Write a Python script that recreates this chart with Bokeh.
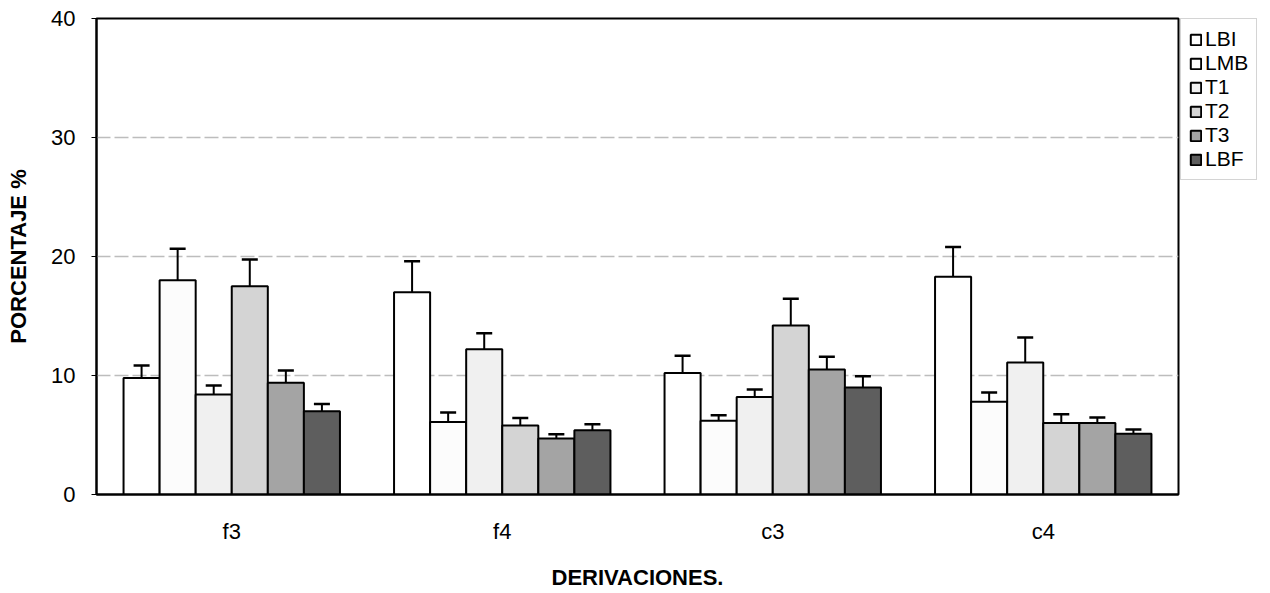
from bokeh.plotting import figure
from bokeh.layouts import row
from bokeh.models import (ColumnDataSource, FactorRange, Range1d, Whisker, TeeHead,
                          Legend, LegendItem, FixedTicker)
from bokeh.transform import dodge
from bokeh.embed import file_html
from bokeh.resources import INLINE

categories = ["f3", "f4", "c3", "c4"]
series = ["LBI", "LMB", "T1", "T2", "T3", "LBF"]

LBI = [9.8, 17.0, 10.2, 18.3]
LMB = [18.0, 6.1, 6.2, 7.8]
T1 = [8.4, 12.2, 8.2, 11.1]
T2 = [17.5, 5.8, 14.2, 6.0]
T3 = [9.4, 4.7, 10.5, 6.0]
LBF = [7.0, 5.4, 9.0, 5.1]

LBI_err = [1.05, 2.6, 1.45, 2.5]
LMB_err = [2.65, 0.8, 0.45, 0.77]
T1_err = [0.75, 1.35, 0.63, 2.1]
T2_err = [2.25, 0.62, 2.25, 0.75]
T3_err = [1.03, 0.37, 1.08, 0.47]
LBF_err = [0.6, 0.5, 0.94, 0.37]

values = [LBI, LMB, T1, T2, T3, LBF]
errors = [LBI_err, LMB_err, T1_err, T2_err, T3_err, LBF_err]
colors = ["#ffffff", "#fcfcfc", "#f0f0f0", "#d4d4d4", "#a4a4a4", "#5e5e5e"]

FONT = "Liberation Sans"

p = figure(x_range=FactorRange(*categories), y_range=Range1d(0, 40),
           width=1180, height=593, output_backend="svg", toolbar_location=None,
           min_border_left=96, min_border_right=2, min_border_top=18, min_border_bottom=99)

# legend-only panel: its bar renderers are hidden, only the legend shows
lp = figure(width=90, height=593, output_backend="svg", toolbar_location=None,
            x_axis_location=None, y_axis_location=None,
            min_border_left=0, min_border_right=0, min_border_top=15, min_border_bottom=0,
            x_range=FactorRange(*categories), y_range=Range1d(0, 40))
lp.outline_line_color = None
lp.xgrid.visible = False
lp.ygrid.visible = False

group_w = 0.8
bw = group_w / len(series)
items = []
for i, (name, vals, errs, col) in enumerate(zip(series, values, errors, colors)):
    off = -group_w / 2 + bw * (i + 0.5)
    src = ColumnDataSource(dict(cat=categories, v=vals,
                                up=[a + b for a, b in zip(vals, errs)],
                                lo=[a - b for a, b in zip(vals, errs)]))
    p.vbar(x=dodge("cat", off, range=p.x_range), top="v", width=bw, source=src,
           fill_color=col, line_color="black", line_width=2)
    w = Whisker(base=dodge("cat", off, range=p.x_range), upper="up", lower="lo", source=src,
                line_color="black", line_width=2,
                upper_head=TeeHead(size=16, line_width=2.5, line_color="black"),
                lower_head=TeeHead(size=16, line_width=2.5, line_color="black"))
    p.add_layout(w)
    r = lp.vbar(x=dodge("cat", off, range=lp.x_range), top="v", width=bw, source=src,
                fill_color=col, line_color="black", line_width=2, visible=False)
    items.append(LegendItem(label=name, renderers=[r]))

# grid
p.xgrid.grid_line_color = None
p.ygrid.ticker = FixedTicker(ticks=[10, 20, 30])
p.ygrid.grid_line_color = "#bdbdbd"
p.ygrid.grid_line_width = 1.5
p.ygrid.grid_line_dash = "14 4"

p.outline_line_color = "black"
p.outline_line_width = 2
p.background_fill_color = "white"

p.yaxis.ticker = FixedTicker(ticks=[0, 10, 20, 30, 40])
p.yaxis.axis_label = "PORCENTAJE %"
p.xaxis.axis_label = "DERIVACIONES."
for ax in (p.xaxis[0], p.yaxis[0]):
    ax.axis_label_text_font = FONT
    ax.axis_label_text_font_style = "bold"
    ax.axis_label_text_font_size = "22px"
    ax.major_label_text_font = FONT
    ax.major_label_text_font_size = "22px"
    ax.major_label_text_color = "black"
    ax.axis_label_text_color = "black"
    ax.axis_line_color = "black"
    ax.axis_line_width = 2
    ax.minor_tick_line_color = None
p.yaxis.major_tick_out = 5
p.yaxis.major_tick_in = 0
p.yaxis.major_label_standoff = 16
p.yaxis.axis_label_standoff = 17
p.xaxis.major_tick_line_color = None
p.xaxis.major_tick_out = 0
p.xaxis.major_tick_in = 0
p.xaxis.major_label_standoff = 24
p.xaxis.axis_label_standoff = 18

legend = Legend(items=items, location="top_left", label_text_font=FONT,
                label_text_font_size="21px", label_text_color="black",
                glyph_width=13, glyph_height=13, label_height=23, spacing=0,
                label_standoff=3, padding=8, margin=0,
                border_line_color="#aaaaaa", border_line_width=1,
                background_fill_alpha=1, inactive_fill_alpha=0)
lp.add_layout(legend)

layout = row(p, lp, spacing=0)
open("out.html", "w").write(file_html(layout, INLINE))
